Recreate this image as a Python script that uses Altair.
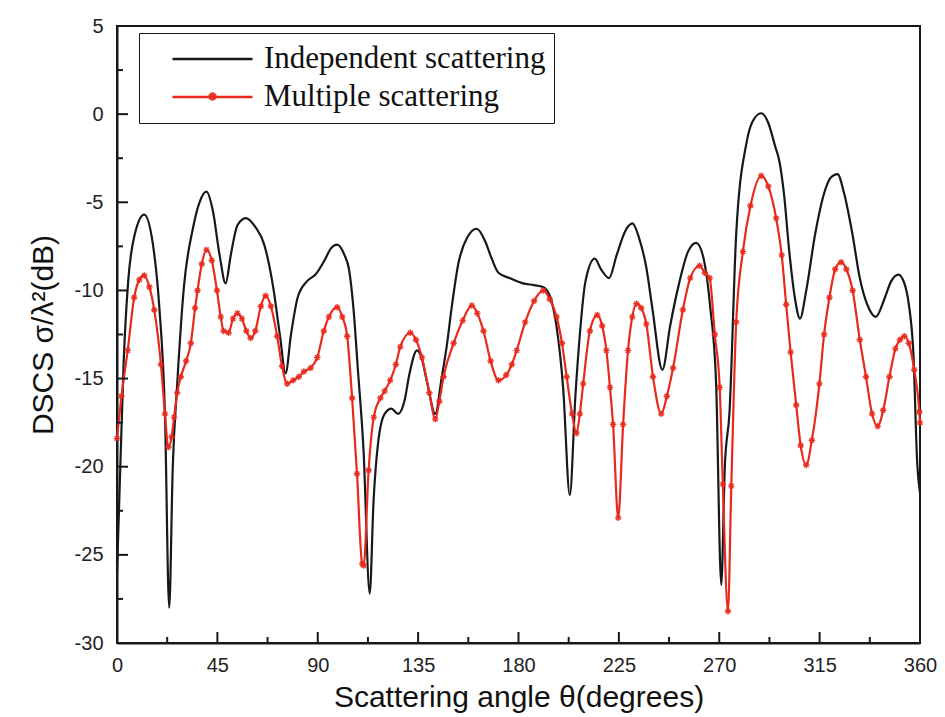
import altair as alt
import pandas as pd

SER_IND = "Independent scattering"
SER_MUL = "Multiple scattering"

ind_angle = [0, 1, 3, 5, 8, 12.2, 16, 19, 21.5, 23.4, 25, 27, 30, 34, 37, 40.1, 43, 46, 48.7,
             51, 54, 57.7, 62, 66, 70, 73, 75.6, 78, 81, 85, 89, 93, 96, 98.7, 102, 104, 106,
             108, 110.5, 113.3, 115, 117, 120, 123, 126, 129, 131, 134.5, 136.5, 139, 142.7,
             145.5, 148, 150, 153, 157, 161.3, 165, 168, 171, 176, 182, 187, 191, 194, 197,
             200, 203, 205.5, 207.5, 210, 214.2, 217, 220.6, 224, 228, 231.1, 234, 237.3,
             240, 244.5, 248, 252, 256, 259.7, 263, 266, 268.6, 270.9, 272.5, 274.6, 277.6,
             282.1, 285, 288.8, 292, 295, 297, 299, 301.4, 304, 306.2, 309, 313, 317, 320,
             323, 326, 329.7, 333, 337, 340.2, 344, 347, 350.3, 353, 355, 357, 358.8, 360]
ind_db = [-26, -22, -14, -9.5, -6.8, -5.7, -7.3, -11, -17, -28, -20, -15.3, -9.8, -6.5, -5, -4.4,
          -5.5, -8, -9.6, -8, -6.3, -5.9, -6.4, -7.4, -9.8, -12.5, -14.7, -12.5, -10.4, -9.5,
          -9.1, -8.3, -7.6, -7.4, -8, -8.8, -11, -14.5, -19, -27.2, -22, -18.7, -17, -16.7,
          -17, -16.2, -14.8, -13.4, -13.8, -15.2, -17, -15, -13, -11, -8.5, -7, -6.5, -7.2,
          -8.2, -9, -9.3, -9.6, -9.7, -9.8, -10.3, -12, -15.5, -21.6, -16, -12.5, -9.5, -8.2,
          -8.8, -9.3, -8, -6.6, -6.2, -7, -8.7, -11, -14.5, -12, -9.6, -7.8, -7.3, -8.2, -11,
          -15.3, -26.7, -20, -16.9, -6.8, -1.7, -0.4, 0.05, -0.5, -1.8, -2.7, -4.5, -7.8,
          -10.5, -11.6, -10, -6.8, -4.5, -3.6, -3.4, -4.5, -6.8, -9.3, -11, -11.5, -10.5,
          -9.5, -9.1, -9.6, -10.8, -13.5, -19.9, -21.5]

mul_angle = [0, 2, 4.8, 7.7, 10, 12.2, 14.5, 16.7, 19.7, 21.5, 23, 24.5, 25.6, 27, 28.6, 31,
             33.1, 35, 36.1, 38, 40.1, 42.5, 44.8, 46.5, 47.8, 50, 52, 54, 56, 58, 59.9, 62,
             64.5, 66.6, 69, 71.8, 74, 76.3, 79, 81.5, 83.8, 86.8, 89.8, 92.7, 95, 98.7, 101,
             103.2, 105.4, 107.6, 109.9, 110.6, 112.8, 115.1, 118.1, 120, 122.5, 125, 127,
             131.5, 134, 136.7, 140, 142.7, 144.5, 146.4, 150.9, 155, 159.1, 161.5, 164.3,
             167.5, 171, 174.5, 177, 179.2, 183, 187, 191.1, 194, 197.1, 199.5, 201.6, 204,
             206, 207.5, 209, 212, 215.3, 217.5, 219.4, 221, 222.4, 224.7, 226.9, 229.1, 231,
             232.9, 235, 237.3, 240.3, 244, 246.5, 249.3, 253.7, 257, 261.2, 263.5, 265.7,
             268, 270.2, 271.6, 273.9, 275.4, 277.6, 280.6, 284, 288.8, 292, 295.5, 298, 300,
             302, 304.5, 306.5, 309, 311.5, 314.9, 317, 319.4, 322, 324.6, 327, 329.8, 333,
             335.8, 338.5, 341, 343.5, 346.3, 349, 351, 353, 355, 357.4, 359.7, 360]
mul_db = [-18.4, -16, -13.4, -10.4, -9.4, -9.15, -9.8, -11.1, -14.2, -17, -18.9, -18.3, -17.2,
          -15.8, -14.9, -14, -13, -11, -10, -8.5, -7.7, -8.3, -10, -11.5, -12.3, -12.4, -11.6,
          -11.3, -11.6, -12.3, -12.7, -12.3, -10.9, -10.3, -10.9, -12.6, -14.3, -15.3, -15.1,
          -14.9, -14.6, -14.4, -13.8, -12.3, -11.5, -10.95, -11.5, -12.6, -16.1, -20.4, -25.5,
          -25.6, -20.2, -17.2, -16.1, -15.7, -15.1, -14.2, -13.2, -12.4, -12.8, -13.8, -15.8,
          -17.3, -16.3, -14.9, -13, -11.7, -10.85, -11.3, -12.3, -14, -15.1, -14.8, -14.2,
          -13.4, -11.8, -10.6, -10, -10.5, -11.5, -13, -14.9, -17, -18.1, -17, -15.3, -12.3,
          -11.4, -12, -13.4, -15.5, -17.6, -22.9, -17.6, -13.4, -11.5, -10.75, -11, -11.9,
          -14.9, -17, -16, -14.4, -11.1, -9.3, -8.6, -9, -9.3, -12.5, -15.5, -21, -28.2,
          -21.1, -11.8, -7.8, -5.2, -3.5, -4.1, -5.9, -8, -10.8, -13.5, -16.5, -18.8, -19.9,
          -18.5, -15.3, -12.5, -10.4, -8.8, -8.4, -8.8, -10, -12.8, -14.9, -17, -17.7, -16.8,
          -14.9, -13.3, -12.8, -12.6, -13, -14.5, -16.9, -17.5]

x_major = [0, 45, 90, 135, 180, 225, 270, 315, 360]
x_minor = [22.5, 67.5, 112.5, 157.5, 202.5, 247.5, 292.5, 337.5]
y_major = [-30, -25, -20, -15, -10, -5, 0, 5]
y_minor = [-27.5, -22.5, -17.5, -12.5, -7.5, -2.5, 2.5]

W, H = 803, 617
RED = "#e8291c"
INK = "#15191c"
ASTERISK = "M-1,0L1,0M0,-1L0,1M-0.7,-0.7L0.7,0.7M-0.7,0.7L0.7,-0.7"

df = pd.concat([
    pd.DataFrame({"angle": ind_angle, "db": ind_db, "series": SER_IND}),
    pd.DataFrame({"angle": mul_angle, "db": mul_db, "series": SER_MUL}),
], ignore_index=True)
df_mul = df[df["series"] == SER_MUL]

xscale = alt.Scale(domain=[0, 360], nice=False, zero=False)
yscale = alt.Scale(domain=[-30, 5], nice=False, zero=False)

X_TITLE = "Scattering angle θ(degrees)"
Y_TITLE = "DSCS σ/λ²(dB)"

x_axis = alt.Axis(values=x_major, labelExpr="toString(datum.value)", ticks=False, grid=False,
                  labelFlush=False, labelFont="Liberation Sans", labelFontSize=20,
                  labelColor="#222", labelPadding=12, domainColor=INK, domainWidth=2,
                  title=X_TITLE, titleFont="Liberation Sans",
                  titleFontSize=30, titleFontWeight="normal", titleColor="#111",
                  titlePadding=7)
y_axis = alt.Axis(values=y_major, labelExpr="toString(datum.value)", ticks=False, grid=False,
                  labelFlush=False, labelFont="Liberation Sans", labelFontSize=20,
                  labelColor="#222", labelPadding=14, domainColor=INK, domainWidth=2,
                  title=Y_TITLE, titleFont="Liberation Sans",
                  titleFontSize=30, titleFontWeight="normal", titleColor="#111",
                  titlePadding=16)

lines = alt.Chart(df).mark_line(interpolate="monotone", strokeWidth=2.2).encode(
    x=alt.X("angle:Q", scale=xscale, axis=x_axis, title=X_TITLE),
    y=alt.Y("db:Q", scale=yscale, axis=y_axis, title=Y_TITLE),
    color=alt.Color("series:N",
                    scale=alt.Scale(domain=[SER_IND, SER_MUL], range=[INK, RED]),
                    legend=alt.Legend(orient="none", legendX=22, legendY=7, title=None,
                                      symbolType="stroke", symbolSize=6400,
                                      symbolStrokeWidth=2.5, clipHeight=36,
                                      labelFont="Liberation Serif", labelFontSize=31,
                                      labelColor="#111", labelOffset=10, labelLimit=500,
                                      labelExpr="datum.label + '     '",
                                      symbolOffset=24, padding=8,
                                      strokeColor=INK, fillColor="white")),
)

points = alt.Chart(df_mul).mark_point(filled=False, size=42, strokeWidth=1.4,
                                      color=RED, opacity=0.9).encode(
    x=alt.X("angle:Q", scale=xscale, title=X_TITLE),
    y=alt.Y("db:Q", scale=yscale, title=Y_TITLE),
    shape=alt.Shape("series:N", scale=alt.Scale(domain=[SER_MUL], range=[ASTERISK]),
                    legend=alt.Legend(orient="none", legendX=90, legendY=65, title=None,
                                      labelExpr="''", labelFontSize=1, padding=0,
                                      symbolSize=70, symbolStrokeWidth=2.5,
                                      symbolStrokeColor=RED, symbolFillColor=RED)),
)

xt_major = alt.Chart(pd.DataFrame({"angle": x_major})).mark_rule(color=INK, strokeWidth=2).encode(
    x=alt.X("angle:Q", scale=xscale, title=X_TITLE), y=alt.value(H), y2=alt.value(H - 11))
xt_minor = alt.Chart(pd.DataFrame({"angle": x_minor})).mark_rule(color=INK, strokeWidth=2).encode(
    x=alt.X("angle:Q", scale=xscale, title=X_TITLE), y=alt.value(H), y2=alt.value(H - 6))
yt_major = alt.Chart(pd.DataFrame({"db": y_major})).mark_rule(color=INK, strokeWidth=2).encode(
    y=alt.Y("db:Q", scale=yscale, title=Y_TITLE), x=alt.value(0), x2=alt.value(11))
yt_minor = alt.Chart(pd.DataFrame({"db": y_minor})).mark_rule(color=INK, strokeWidth=2).encode(
    y=alt.Y("db:Q", scale=yscale, title=Y_TITLE), x=alt.value(0), x2=alt.value(6))

chart = alt.layer(lines, points, xt_major, xt_minor, yt_major, yt_minor).properties(
    width=W, height=H,
    autosize=alt.AutoSizeParams(type="none"),
    padding={"left": 117, "top": 26, "right": 25, "bottom": 74},
    background="white",
).configure_view(stroke=INK, strokeWidth=2)

chart.save("out.html", embed_options={"renderer": "svg", "actions": False})
